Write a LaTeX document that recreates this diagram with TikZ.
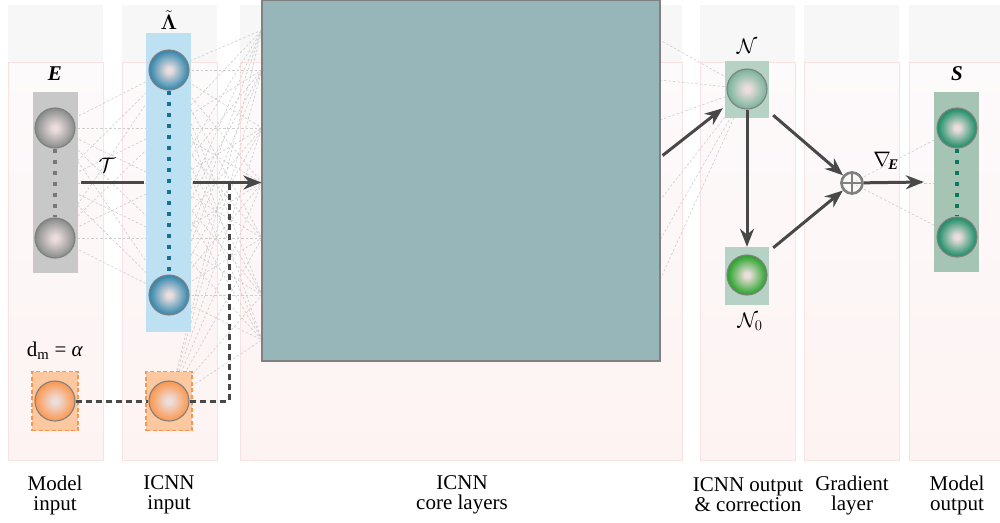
\RequirePackage{fix-cm}
\documentclass[tikz,border=0pt]{standalone}
\usepackage{amsmath,amssymb,bm}
\usepackage{fontspec}
\setmainfont{Liberation Serif}
\usetikzlibrary{arrows.meta,calc}
\definecolor{graybg}{RGB}{247,247,247}
\definecolor{pinktop}{RGB}{253,250,251}
\definecolor{pinkbg}{RGB}{253,243,242}
\definecolor{pinkedge}{RGB}{250,226,226}
\definecolor{corefill}{RGB}{151,182,186}
\definecolor{grayrect}{RGB}{200,200,200}
\definecolor{bluerect}{RGB}{190,224,243}
\definecolor{orangerect}{RGB}{251,200,160}
\definecolor{orangeedge}{RGB}{246,150,80}
\definecolor{nrect}{RGB}{181,210,196}
\definecolor{srect}{RGB}{166,196,180}
\definecolor{arrowgray}{RGB}{72,72,72}
\definecolor{netgray}{RGB}{205,205,205}
\definecolor{dotgray}{RGB}{120,120,120}
\definecolor{dotblue}{RGB}{24,112,146}
\definecolor{dotgreen}{RGB}{14,120,90}
\definecolor{hl}{RGB}{236,222,222}
\definecolor{gmid}{RGB}{150,150,150}\definecolor{gdark}{RGB}{95,95,95}
\definecolor{bmid}{RGB}{70,145,180}\definecolor{bdark}{RGB}{15,95,130}
\definecolor{omid}{RGB}{250,160,95}\definecolor{odark}{RGB}{240,120,40}
\definecolor{nmid}{RGB}{135,185,165}\definecolor{ndark}{RGB}{80,145,120}
\definecolor{zmid}{RGB}{60,170,60}\definecolor{zdark}{RGB}{20,125,20}
\definecolor{smid}{RGB}{50,150,115}\definecolor{sdark}{RGB}{5,110,75}
\pgfdeclareradialshading{ballgray}{\pgfpoint{0bp}{0bp}}{color(0bp)=(hl); color(3bp)=(hl); color(22bp)=(gmid); color(33bp)=(gdark); color(100bp)=(gdark)}
\pgfdeclareradialshading{ballblue}{\pgfpoint{0bp}{0bp}}{color(0bp)=(hl); color(3bp)=(hl); color(22bp)=(bmid); color(33bp)=(bdark); color(100bp)=(bdark)}
\pgfdeclareradialshading{ballorange}{\pgfpoint{0bp}{0bp}}{color(0bp)=(hl); color(3bp)=(hl); color(22bp)=(omid); color(33bp)=(odark); color(100bp)=(odark)}
\pgfdeclareradialshading{ballN}{\pgfpoint{0bp}{0bp}}{color(0bp)=(hl); color(3bp)=(hl); color(22bp)=(nmid); color(33bp)=(ndark); color(100bp)=(ndark)}
\pgfdeclareradialshading{ballNzero}{\pgfpoint{0bp}{0bp}}{color(0bp)=(hl); color(3bp)=(hl); color(22bp)=(zmid); color(33bp)=(zdark); color(100bp)=(zdark)}
\pgfdeclareradialshading{ballS}{\pgfpoint{0bp}{0bp}}{color(0bp)=(hl); color(3bp)=(hl); color(22bp)=(smid); color(33bp)=(sdark); color(100bp)=(sdark)}
\begin{document}
\begin{tikzpicture}[x=1pt,y=-1pt,
  colpink/.style={bottom color=pinkbg, top color=pinktop, draw=pinkedge, line width=0.8pt},
  colgray/.style={fill=graybg},
  ball/.style={circle, minimum size=40pt, inner sep=0pt, draw=black!50, line width=1.1pt, shading=#1},
  layerbox/.style={rectangle, inner sep=0pt, minimum width=45pt},
  dotline/.style={line width=4pt, dash pattern=on 4pt off 7pt},
  netline/.style={draw=netgray, line width=0.6pt, dash pattern=on 2.5pt off 2pt},
  mainarrow/.style={draw=arrowgray, line width=3pt, -{Stealth[length=18pt,width=14pt]}},
  mainline/.style={draw=arrowgray, line width=3pt},
  dmline/.style={draw=arrowgray, line width=3pt, dash pattern=on 6pt off 4pt},
  collabel/.style={font=\fontsize{21}{20}\selectfont, align=center},
  mathlabel/.style={font=\fontsize{21}{21}\selectfont}
]
\useasboundingbox (0,0) rectangle (1000,522);
% background columns
\foreach \xa/\xb in {8/103,122/217,240/682,700/795,804/899,909/1000}{
  \path[colpink] (\xa,62) rectangle (\xb,460);
  \path[colgray] (\xa,5) rectangle (\xb,62);
}

% hidden coordinates
\foreach \i/\yy in {1/70,2/128,3/183,4/238,5/295}
  \coordinate (lam\i) at (169,\yy);
\foreach \i/\yy in {1/30,2/70,3/128,4/183,5/238,6/295,7/340}
  \coordinate (cl\i) at (262,\yy);
\foreach \i/\yy in {1/40,2/80,3/120,4/200,5/240,6/280}
  \coordinate (cr\i) at (660,\yy);

% dense connections (behind)
\foreach \s in {(55,128),(55,183),(55,238)}
  \foreach \t in {1,...,5}
    \draw[netline] \s -- (lam\t);
\foreach \s in {1,...,5}
  \foreach \t in {1,...,7}
    \draw[netline] (lam\s) -- (cl\t);
\foreach \t in {1,...,7}
  \draw[netline] (169,401) -- (cl\t);
\foreach \t in {1,...,6}
  \draw[netline] (747,89) -- (cr\t);
\foreach \t in {(957,128),(957,183),(957,237)}
  \draw[netline] (852,183) -- \t;

% core layers
\node (core) [rectangle, draw=black!50, line width=1.2pt, fill=corefill, inner sep=0pt,
  minimum width=398pt, minimum height=361pt] at (461,180.5) {};

% E column
\node (Ebox) [layerbox, fill=grayrect, minimum height=181pt] at (55,182.5) {};
\node (E1) [ball=ballgray] at (55,128) {};
\node (E2) [ball=ballgray] at (55,238) {};
\draw[dotline, draw=dotgray] (E1.south) -- (E2.north);
\node (Elab) [mathlabel] at (55,74) {\textbf{\textit{E}}};

% Lambda column
\node (Lbox) [layerbox, fill=bluerect, minimum height=299pt] at (168.5,182.5) {};
\node (L1) [ball=ballblue] at (169,70) {};
\node (L2) [ball=ballblue] at (169,295) {};
\draw[dotline, draw=dotblue] (L1.south) -- (L2.north);
\node (Llab) [mathlabel] at (169,20) {$\bm{\tilde{\Lambda}}$};

% orange dm nodes
\node (O1box) [layerbox, fill=orangerect, draw=orangeedge, line width=1.2pt, dash pattern=on 4pt off 2.5pt, minimum width=46pt, minimum height=59pt] at (55,401) {};
\node (O1) [ball=ballorange] at (55,401) {};
\node (O2box) [layerbox, fill=orangerect, draw=orangeedge, line width=1.2pt, dash pattern=on 4pt off 2.5pt, minimum width=46pt, minimum height=59pt] at (169,401) {};
\node (O2) [ball=ballorange] at (169,401) {};
\node (dmlab) [font=\fontsize{21}{21}\selectfont] at (55,351) {d\textsubscript{m} = \textit{α}};

% T arrow and dm line
\coordinate (Tstart) at ($(Ebox.east)+(3,0)$);
\coordinate (Tend) at ($(Lbox.west)+(-2,0)$);
\draw[mainline] (Tstart) -- (Tend);
\node (Tlab) [mathlabel] at (107,165) {$\mathcal{T}$};
\coordinate (joint) at (229,183);
\draw[dmline] (O1.east) -- (O2.west);
\draw[dmline] (O2.east) -| (joint);
\draw[mainarrow] ($(Lbox.east)+(2,0)$) -- (core.west |- Lbox.east);

% N and N0
\node (Nbox) [layerbox, fill=nrect, minimum width=44pt, minimum height=57pt] at (747,89.5) {};
\node (N) [ball=ballN] at (747,89) {};
\node (Nlab) [mathlabel] at (747,46) {$\mathcal{N}$};
\node (N0box) [layerbox, fill=nrect, minimum width=44pt, minimum height=58pt] at (747,276) {};
\node (N0) [ball=ballNzero] at (747,275) {};
\node (N0lab) [mathlabel] at (750,322) {$\mathcal{N}_0$};

% gradient
\node (plus) [circle, draw=black!50, line width=2.6pt, minimum size=21pt, inner sep=0pt] at (852,183) {};
\draw[draw=black!50, line width=1.6pt] (plus.north) -- (plus.south) (plus.west) -- (plus.east);
\node (glab) [mathlabel] at (886,161) {$\nabla_{\!\textbf{\textit{E}}}$};

% S column
\node (Sbox) [layerbox, fill=srect, minimum height=180pt] at (956.5,182) {};
\node (S1) [ball=ballS] at (957,128) {};
\node (S2) [ball=ballS] at (957,237) {};
\draw[dotline, draw=dotgreen] (S1.south) -- (S2.north);
\node (Slab) [mathlabel] at (957,74) {\textbf{\textit{S}}};

% main arrows
\draw[mainarrow] ($(core.east)+(2,-25)$) -- ($(Nbox.south west)+(-2,-10)$);
\draw[mainarrow] (N.south) -- (N0box.north);
\draw[mainarrow] ($(Nbox.south east)+(4,-3)$) -- (plus);
\draw[mainarrow] ($(N0box.north east)+(4,1)$) -- (plus);
\draw[mainarrow] (plus) -- ($(Sbox.west)+(-10,0)$);

% bottom labels
\node (b1) [collabel] at (55,495) {Model\\input};
\node (b2) [collabel] at (169,495) {ICNN\\input};
\node (b3) [collabel] at (462,495) {ICNN\\core layers};
\node (b4) [collabel] at (748,495) {ICNN output\\\& correction};
\node (b5) [collabel] at (852,495) {Gradient\\layer};
\node (b6) [collabel] at (957,495) {Model\\output};
\end{tikzpicture}
\end{document}
